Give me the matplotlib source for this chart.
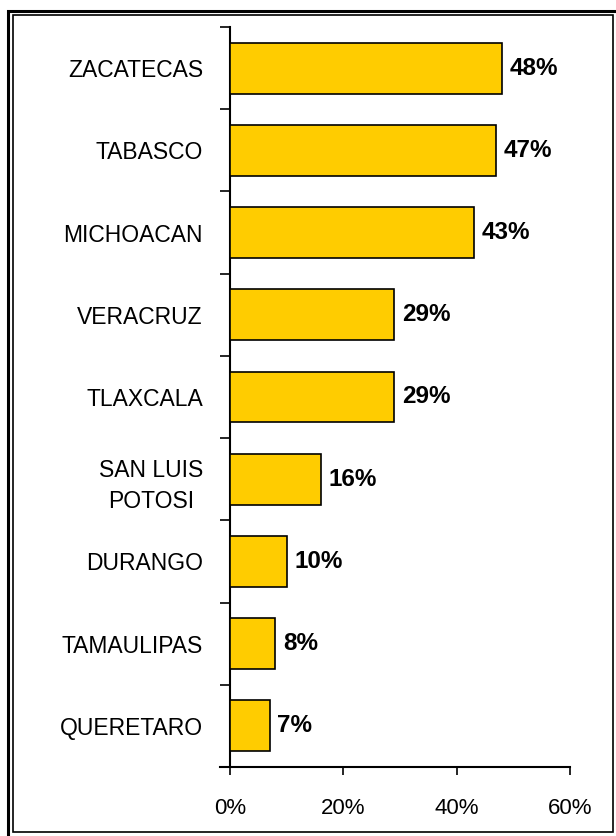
import matplotlib
matplotlib.use("Agg")
import matplotlib.pyplot as plt
from matplotlib.patches import Rectangle
from matplotlib.ticker import FuncFormatter, FixedLocator

categories = ["ZACATECAS", "TABASCO", "MICHOACAN", "VERACRUZ", "TLAXCALA",
              "SAN LUIS\nPOTOSI", "DURANGO", "TAMAULIPAS", "QUERETARO"]
values = [48, 47, 43, 29, 29, 16, 10, 8, 7]
value_labels = ["48%", "47%", "43%", "29%", "29%", "16%", "10%", "8%", "7%"]
xticks = [0, 20, 40, 60]

plt.rcParams['font.family'] = ['Liberation Sans', 'DejaVu Sans']

W, H = 616, 836
fig = plt.figure(figsize=(W / 100, H / 100), dpi=100)

# frame (double line)
def px_rect(x0, y0, x1, y1, lw):
    return Rectangle((x0 / W, 1 - y1 / H), (x1 - x0) / W, (y1 - y0) / H,
                     transform=fig.transFigure, fill=False, edgecolor='black',
                     linewidth=lw, zorder=10)
fig.patches.append(px_rect(8, 11, 640, 860, 2.2))
fig.patches.append(px_rect(12.5, 15, 613, 832, 1.2))

ax = fig.add_axes([230 / W, 1 - 767 / H, (570 - 230) / W, (767 - 27) / H])
n = len(categories)
ypos = list(range(n))
ax.barh(ypos, values, height=0.62, color='#FFCC00', edgecolor='black', linewidth=1.2, zorder=3)
ax.set_ylim(n - 0.5, -0.5)
ax.set_xlim(0, 60)

for y, v, lab in zip(ypos, values, value_labels):
    ax.annotate(lab, (v, y), xytext=(5.5, 0), textcoords='offset points',
                va='center', ha='left', fontsize=17.5, fontweight='bold', color='black')

ax.set_yticks(ypos)
ax.set_yticklabels(categories, fontsize=16.5, ha='right', multialignment='center',
                   linespacing=1.45)
ax.yaxis.set_minor_locator(FixedLocator([i - 0.5 for i in range(n + 1)]))
ax.tick_params(axis='y', which='major', length=7, width=0, pad=12.5)
ax.tick_params(axis='y', which='minor', length=7, width=1.2, direction='out')

ax.set_xticks(xticks)
ax.xaxis.set_major_formatter(FuncFormatter(lambda v, p: f"{int(v)}%"))
ax.tick_params(axis='x', length=6, width=1.2, direction='out', labelsize=16, pad=16)

for s in ['top', 'right']:
    ax.spines[s].set_visible(False)
for s in ['left', 'bottom']:
    ax.spines[s].set_linewidth(1.5)
ax.spines['bottom'].set_bounds(-1.8, 60)

fig.savefig("out.png", dpi=100)
